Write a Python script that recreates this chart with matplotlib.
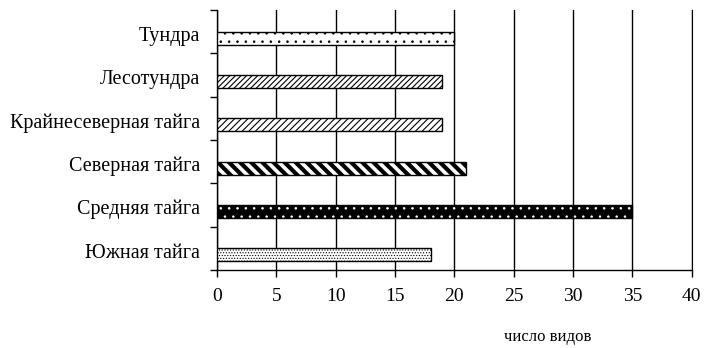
import matplotlib.pyplot as plt
import numpy as np

plt.rcParams['font.family'] = ['Liberation Serif', 'DejaVu Serif']

zones = ["Тундра", "Лесотундра", "Крайнесеверная тайга", "Северная тайга",
         "Средняя тайга", "Южная тайга"]
species = [20, 19, 19, 21, 35, 18]
x_ticks = np.arange(0, 45, 5)

# fill, hatch colour, hatch, hatch line width per zone
faces = ["white", "white", "white", "white", "black", "white"]
hatch_colors = ["black", "black", "black", "black", "white", "black"]
hatches = ["..", "//////", "/////", "\\\\\\", "..", "......"]
hatch_lw = [0.6, 0.8, 0.8, 3.0, 0.6, 0.5]

fig = plt.figure(figsize=(7.08, 3.48), dpi=100)
ax = fig.add_axes([0.3065, 0.224, 0.6705, 0.747])

y = np.arange(len(zones))
bar_y = y + 0.15  # bars sit a bit below the category centre
for yi, val, fc, hc, h, hl in zip(bar_y, species, faces, hatch_colors, hatches, hatch_lw):
    bars = ax.barh(yi, val, height=0.3, color=fc, edgecolor=hc, hatch=h, linewidth=0, zorder=3)
    for b in bars:
        b.set_hatch_linewidth(hl)
    ax.barh(yi, val, height=0.3, fill=False, edgecolor="black", linewidth=1.0, zorder=4)

ax.set_xlim(0, 40)
ax.set_ylim(len(zones) - 0.5, -0.5)
ax.set_xticks(x_ticks)
ax.set_xticklabels([str(t) for t in x_ticks], fontsize=14)
ax.set_yticks(y + 0.05)
ax.set_yticklabels(zones, fontsize=14.5)
ax.tick_params(axis="y", length=0, pad=12)
ax.set_yticks(np.arange(-0.5, len(zones)), minor=True)
ax.tick_params(axis="y", which="minor", length=5, width=1)
ax.tick_params(axis="x", length=5, width=1, pad=8)

ax.xaxis.grid(True, color="black", linewidth=1.0)
ax.set_axisbelow(True)
ax.spines["top"].set_visible(False)
ax.spines["right"].set_color("black")
ax.spines["left"].set_linewidth(1.0)
ax.spines["bottom"].set_linewidth(1.0)

fig.text(0.774, 0.02, "число видов", fontsize=12, ha="center")

fig.savefig("out.png")
